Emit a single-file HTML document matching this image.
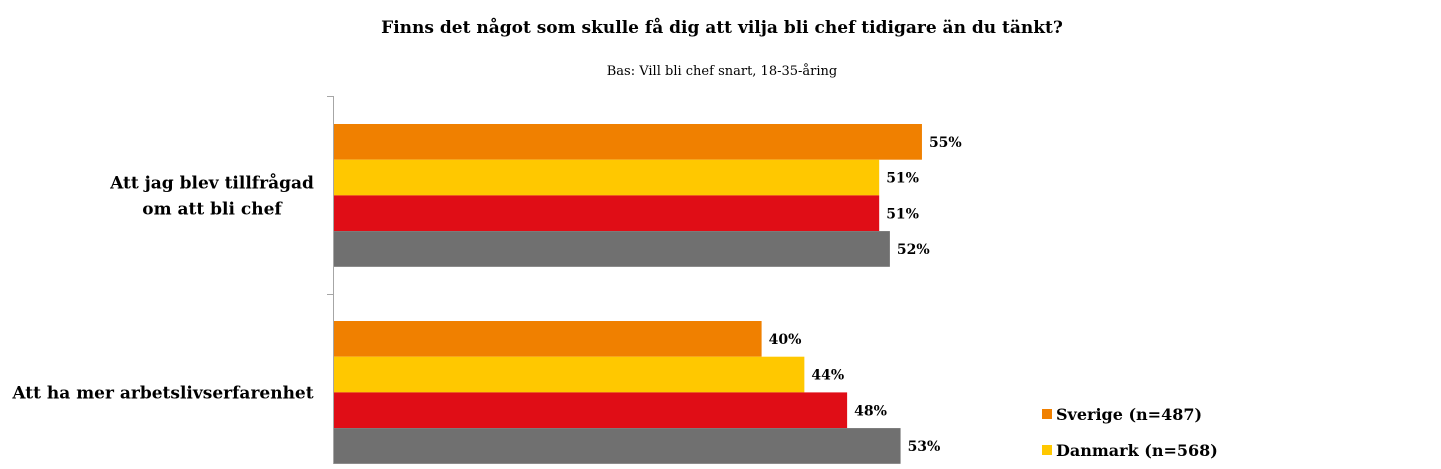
<!DOCTYPE html>
<html><head><meta charset="utf-8"><style>
body{margin:0;background:#fff;}
svg text{font-family:"DejaVu Serif","Liberation Serif",serif;}
</style></head><body>
<svg id="chart" width="1441" height="464" xmlns="http://www.w3.org/2000/svg">
<text x="722" y="33" text-anchor="middle" font-size="17" font-weight="bold" fill="#000">Finns det något som skulle få dig att vilja bli chef tidigare än du tänkt?</text>
<text x="722" y="75" text-anchor="middle" font-size="13" fill="#000">Bas: Vill bli chef snart, 18-35-åring</text>
<g id="axis" stroke="#a6a6a6" stroke-width="1">
<line x1="333.5" y1="96" x2="333.5" y2="464"/>
<line x1="327" y1="96.5" x2="333" y2="96.5"/>
<line x1="327" y1="294.5" x2="333" y2="294.5"/>
</g>
<g id="bars"></g>
<g id="legend">
<rect x="1042" y="409" width="10" height="10" fill="#f08000"/>
<text x="1056" y="420" font-size="16" font-weight="bold">Sverige (n=487)</text>
<rect x="1042" y="445" width="10" height="10" fill="#ffc800"/>
<text x="1056" y="456" font-size="16" font-weight="bold">Danmark (n=568)</text>
</g>
</svg>
<script>
const categories=[["Att jag blev tillfrågad","om att bli chef"],["Att ha mer arbetslivserfarenhet"]];
const seriesNames=["Sverige","Danmark","Series3","Series4"];
const sverige=[55,40];
const danmark=[51,44];
const series3=[51,48];
const series4=[52,53];
const colors=["#f08000","#ffc800","#e00d16","#707070"];
const all=[sverige,danmark,series3,series4];
const x0=334, pxPer=10.69;
const xs=v=>x0+v*pxPer;
const groupTop=[124,321], barH=35.7;
const g=document.getElementById('bars');
const svg=document.getElementById('chart');
const NS="http://www.w3.org/2000/svg";
categories.forEach((cat,ci)=>{
  all.forEach((s,si)=>{
    const y=groupTop[ci]+si*barH;
    const r=document.createElementNS(NS,'rect');
    
    
    r.setAttribute('x',x0);r.setAttribute('y',y);
    r.setAttribute('width',xs(s[ci])-x0);r.setAttribute('height',barH);
    r.setAttribute('fill',colors[si]);
    g.appendChild(r);
    const t=document.createElementNS(NS,'text');
    
    
    t.setAttribute('x',xs(s[ci])+7);t.setAttribute('y',y+barH/2+5);
    t.setAttribute('font-size','14');t.setAttribute('font-weight','bold');
    t.textContent=s[ci]+'%';
    g.appendChild(t);
  });
  const cy=groupTop[ci]+2*barH;
  const lines=cat;
  lines.forEach((ln,li)=>{
    const t=document.createElementNS(NS,'text');
    
    
    t.setAttribute('x',lines.length>1?212:163);
    t.setAttribute('text-anchor','middle');
    t.setAttribute('y',cy+6+(li-(lines.length-1)/2)*26);
    t.setAttribute('font-size','17');t.setAttribute('font-weight','bold');
    t.textContent=ln;
    g.appendChild(t);
  });
});
</script>
</body></html>
